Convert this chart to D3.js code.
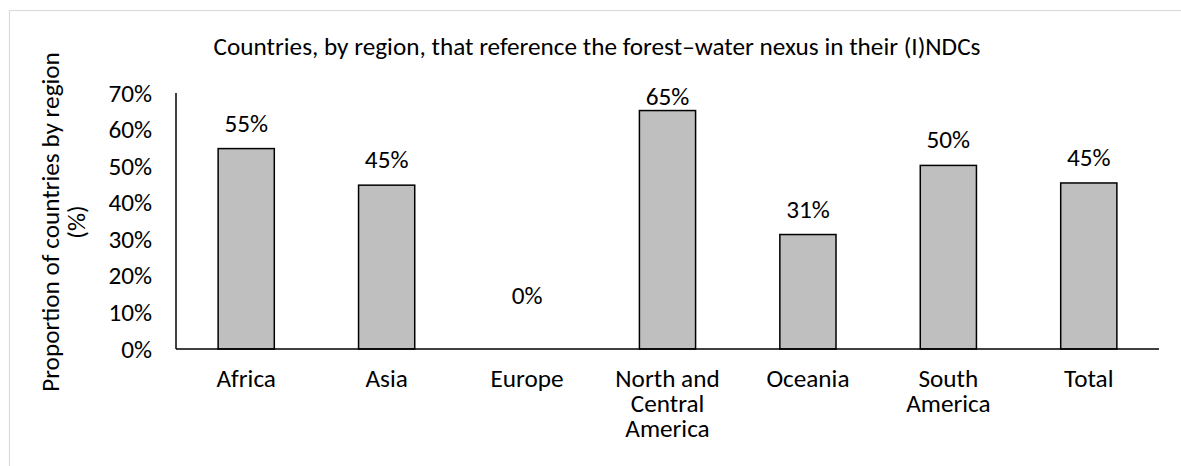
<!DOCTYPE html>
<html><head><meta charset="utf-8">
<script src="https://cdn.jsdelivr.net/npm/d3@7"></script>
<style>
html,body{margin:0;padding:0;background:#fff;}
svg{display:block;}
text{font-family:Carlito, Calibri, Lato, sans-serif;fill:#000;}
</style></head>
<body><svg id="c" width="1181" height="466"></svg>
<script>
const categories = ["Africa","Asia","Europe","North and Central America","Oceania","South America","Total"];
const categoryLines = [["Africa"],["Asia"],["Europe"],["North and","Central","America"],["Oceania"],["South","America"],["Total"]];
const values = [54.8, 44.8, 0, 65.2, 31.3, 50.2, 45.4];
const valueLabels = ["55%","45%","0%","65%","31%","50%","45%"];
const yTicks = [0,10,20,30,40,50,60,70];
const titleText = "Countries, by region, that reference the forest\u2013water nexus in their (I)NDCs";
const yTitleLines = ["Proportion of countries by region","(%)"];

const svg = d3.select("#c");
const m = {left:176, right:1159, top:93, bottom:349};

// frame
svg.append("rect").attr("x",9.5).attr("y",10.5).attr("width",1200).attr("height",500)
  .attr("fill","none").attr("stroke","#dcdcdc").attr("stroke-width",1.2);

// title with font-size fitted to reference width
const title = svg.append("text").attr("x",597).attr("y",55).attr("text-anchor","middle")
  .style("font-size","18.7px").text(titleText);
const tw = title.node().getComputedTextLength();
const fs = 18.7 * 767 / tw;
title.style("font-size", fs + "px");

const x = d3.scaleBand().domain(categories).range([m.left, m.right]).paddingInner(0.6).paddingOuter(0.3);
const y = d3.scaleLinear().domain([0,70]).range([m.bottom, m.top]);

// bars
svg.append("g").selectAll("rect").data(values).join("rect")
  .attr("x",(d,i)=>x(categories[i]))
  .attr("y",d=>y(d))
  .attr("width",x.bandwidth())
  .attr("height",d=>y(0)-y(d))
  .attr("fill","#bfbfbf").attr("stroke","#000").attr("stroke-width",1.5)
  .style("display",d=>d>0?null:"none");

// y axis (labels only)
const yAxis = d3.axisLeft(y).tickValues(yTicks).tickFormat(d=>d+"%").tickSize(0).tickPadding(24);
const gy = svg.append("g").attr("transform",`translate(${m.left},0)`).call(yAxis);
gy.select(".domain").remove();
gy.attr("font-family",null).attr("font-size",null);
gy.selectAll("text").style("font-size",fs+"px").attr("fill","#000");

// axis lines
svg.append("line").attr("x1",m.left).attr("x2",m.left).attr("y1",y(70)).attr("y2",y(0))
  .attr("stroke","#000").attr("stroke-width",1.5);
svg.append("line").attr("x1",m.left).attr("x2",m.right).attr("y1",y(0)).attr("y2",y(0))
  .attr("stroke","#000").attr("stroke-width",1.5);

// x axis labels
const xAxis = d3.axisBottom(x).tickSize(0).tickPadding(0).tickFormat("");
const gx = svg.append("g").attr("transform",`translate(0,${m.bottom})`).call(xAxis);
gx.select(".domain").remove();
gx.attr("font-family",null).attr("font-size",null);
gx.selectAll(".tick").each(function(d,i){
  const g = d3.select(this);
  categoryLines[i].forEach((ln,j)=>{
    g.append("text").attr("text-anchor","middle").style("font-size",fs+"px")
      .attr("x",0).attr("y",38 + j*25).text(ln);
  });
});

// value labels
svg.append("g").selectAll("text").data(values).join("text")
  .attr("x",(d,i)=>x(categories[i])+x.bandwidth()/2)
  .attr("y",d=> d>0 ? Math.max(y(d)-23, 99) + 6 : y(0)-51+6)
  .attr("text-anchor","middle").style("font-size",fs+"px")
  .text((d,i)=>valueLabels[i]);

// y title
yTitleLines.forEach((ln,j)=>{
  svg.append("text").attr("transform",`translate(${59 + j*26},222) rotate(-90)`)
    .attr("text-anchor","middle").style("font-size",fs+"px").text(ln);
});
</script></body></html>
